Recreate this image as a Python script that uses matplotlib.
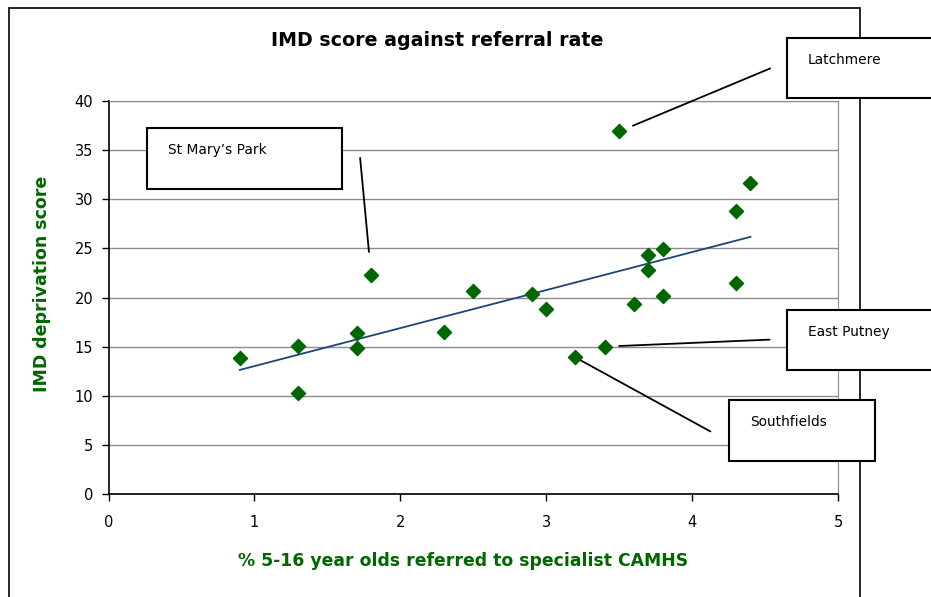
import matplotlib
matplotlib.use("Agg")
import numpy as np
import matplotlib.pyplot as plt
from matplotlib.patches import Rectangle

# referral rate (%) vs IMD deprivation score, one point per ward
referral_rate = [0.9, 1.3, 1.3, 1.7, 1.7, 1.8, 2.3, 2.5, 2.9, 3.0, 3.2,
                 3.4, 3.5, 3.6, 3.7, 3.7, 3.8, 3.8, 4.3, 4.3, 4.4]
imd_score = [13.8, 15.1, 10.3, 16.4, 14.9, 22.3, 16.5, 20.7, 20.4, 18.8, 13.9,
             15.0, 36.9, 19.3, 24.3, 22.8, 24.9, 20.2, 28.8, 21.5, 31.7]

# labelled wards: name, x, y
callout_names = ["Latchmere", "St Mary\u2019s Park", "East Putney", "Southfields"]
callout_x = [3.5, 1.8, 3.4, 3.2]
callout_y = [36.9, 22.3, 15.0, 13.9]

x_ticks = [0, 1, 2, 3, 4, 5]
y_ticks = [0, 5, 10, 15, 20, 25, 30, 35, 40]

W, H = 931, 597
green = "#006600"

fig = plt.figure(figsize=(W / 100, H / 100), dpi=100)
plt.rcParams['font.family'] = ['DejaVu Sans']

def px(x, y):
    # pixel (from top-left) -> figure fraction
    return x / W, 1 - y / H

# outer chart frame
fx, fy = px(9, 8)
fig.add_artist(Rectangle((fx, -0.05), 860 / W - fx, fy + 0.05,
                         transform=fig.transFigure, fill=False,
                         edgecolor="black", linewidth=1.2))

l, b = px(108.5, 494)
r, t = px(838, 101)
ax = fig.add_axes([l, b, r - l, t - b])

ax.scatter(referral_rate, imd_score, marker="D", s=52, color=green, zorder=3)

# linear trend line
coef = np.polyfit(referral_rate, imd_score, 1)
xs = np.array([min(referral_rate), max(referral_rate)])
ax.plot(xs, np.polyval(coef, xs), color="#1a4677", linewidth=1.3, zorder=2)

ax.set_xlim(0, 5)
ax.set_ylim(0, 40)
ax.set_xticks(x_ticks)
ax.set_yticks(y_ticks)
ax.tick_params(axis="both", direction="out", length=5, width=1, labelsize=10.5,
               colors="black", pad=6)
ax.tick_params(axis="x", pad=10)
ax.grid(axis="y", color="#8c8c8c", linewidth=1)
ax.set_axisbelow(True)
for s in ["top", "right"]:
    ax.spines[s].set_color("#8c8c8c")
for s in ["left", "bottom"]:
    ax.spines[s].set_color("black")
    ax.spines[s].set_linewidth(1.2)

fig.text(437 / W, 1 - 40 / H, "IMD score against referral rate", ha="center",
         va="center", fontsize=13.7, fontweight="bold")
fig.text(42 / W, 1 - 284 / H, "IMD deprivation score", rotation=90, ha="center",
         va="center", fontsize=12.5, fontweight="bold", color=green)
fig.text(463 / W, 1 - 561 / H, "% 5-16 year olds referred to specialist CAMHS",
         ha="center", va="center", fontsize=12.4, fontweight="bold", color=green)

# callout boxes (pixel extents) and leader line offsets from the point (pixels)
boxes = [(787, 38, 960, 98), (147, 128, 342, 189), (787, 310, 960, 370), (729, 400, 875, 461)]
line_start = [(14, -5), (-2, -23), (14, -4), (5, 4)]
line_end = [(151, -63), (-11, -117), (165, -7), (135, 74)]

for name, cx, cy, box, st, en in zip(callout_names, callout_x, callout_y, boxes,
                                     line_start, line_end):
    shrink = np.hypot(*st) * 0.72
    ax.annotate("", xy=(cx, cy), xytext=(en[0], -en[1]), textcoords="offset pixels",
                arrowprops=dict(arrowstyle="-", color="black", lw=1.3,
                                shrinkA=0, shrinkB=shrink),
                annotation_clip=False)
    x0, y0 = px(box[0], box[3])
    x1, y1 = px(box[2], box[1])
    fig.add_artist(Rectangle((x0, y0), x1 - x0, y1 - y0, transform=fig.transFigure,
                             facecolor="white", edgecolor="black", linewidth=1.5,
                             zorder=5))
    tx, ty = px(box[0] + 21, box[1] + 22)
    fig.text(tx, ty, name, ha="left", va="center", fontsize=9.9, zorder=6)

fig.savefig("out.png", dpi=100)
